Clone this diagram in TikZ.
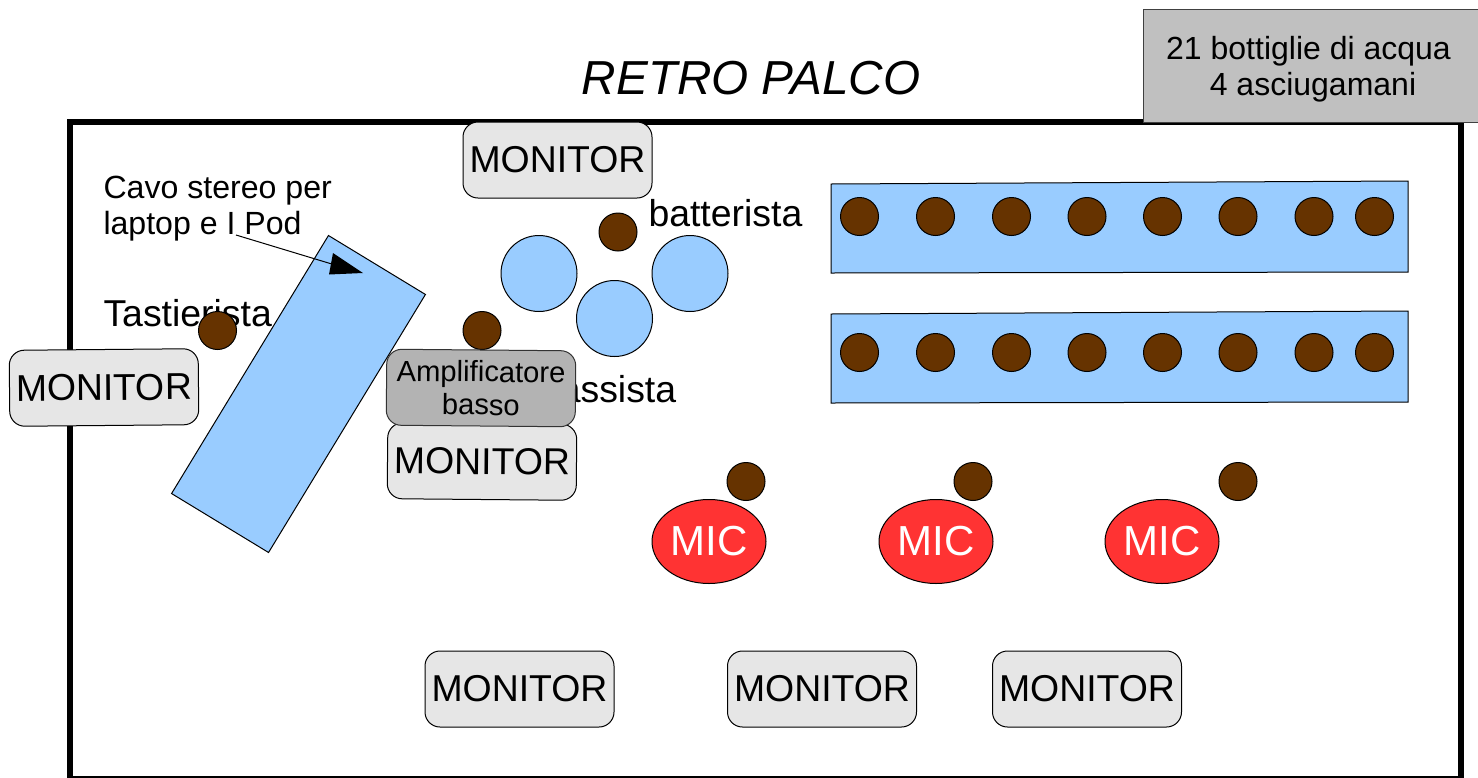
\documentclass[tikz,border=0pt]{standalone}
\usepackage{fontspec}
\setmainfont{Liberation Sans}
\usetikzlibrary{shapes.geometric}
\definecolor{monfill}{HTML}{E6E6E6}
\definecolor{ampfill}{HTML}{B3B3B3}
\definecolor{notefill}{HTML}{C0C0C0}
\definecolor{stageblue}{HTML}{99CCFF}
\definecolor{personbrown}{HTML}{663300}
\definecolor{micred}{HTML}{FF3333}
\newcommand{\fs}[1]{\fontsize{#1}{#1}\selectfont}
\tikzset{
  x=1pt,y=-1pt,
  every node/.style={inner sep=0pt,outer sep=0pt},
  outline/.style={draw=black,line width=1pt},
  monitorbox/.style={outline,fill=monfill,rounded corners=15pt,minimum width=189pt,minimum height=76pt,font=\fs{37.4}},
  ampbox/.style={outline,draw=black!80,fill=ampfill,rounded corners=15pt,minimum width=189pt,minimum height=76pt,align=center,font=\fontsize{29.2}{33}\selectfont},
  person/.style={outline,circle,fill=personbrown,minimum size=38pt},
  drum/.style={outline,circle,fill=stageblue,minimum size=76pt},
  micnode/.style={outline,ellipse,fill=micred,minimum width=114pt,minimum height=84pt,text=white,font=\fs{42}},
  lab/.style={font=\fs{37.4},anchor=base west},
  rack/.style={outline,fill=stageblue},
}
\begin{document}
\begin{tikzpicture}
\useasboundingbox (0,0) rectangle (1478,777);
\begin{scope}
\clip (0,0) rectangle (1478,777);
% stage
\draw[line width=6.5pt,fill=white,line join=miter] (70,122) rectangle (1461,779);
\node[font=\fs{47.7}\itshape,anchor=base] (title) at (751,94) {RETRO PALCO};
\node[draw=black!75,line width=1pt,fill=notefill,minimum width=344pt,minimum height=113pt,anchor=north west] (note) at (1143.5,9) {};
\node[font=\fs{32},anchor=base] (noteA) at (1308.5,59) {21 bottiglie di acqua};
\node[font=\fs{32},anchor=base] (noteB) at (1313,95) {4 asciugamani};
% risers
\draw[rack] (831,184) -- (1408,181) -- (1408,272) -- (831,273) -- cycle;
\draw[rack] (831,314) -- (1408,311) -- (1408,402) -- (831,403) -- cycle;
\foreach \i/\px in {1/859.5,2/935.5,3/1011.5,4/1087,5/1162.5,6/1238,7/1314,8/1374.5}{
  \node[person] (ra\i) at (\px,216.5) {};
  \node[person] (rb\i) at (\px,352.5) {};
}
% labels
\node[lab] (tast) at (103.5,326) {Tastierista};
\node[lab] (batt) at (648.5,226) {batterista};
\node[lab] (bass) at (539,402) {bassista};
\node[font=\fs{32.1},anchor=base west] (cavoA) at (103.5,198) {Cavo stereo per};
\node[font=\fs{32.1},anchor=base west] (cavoB) at (103.5,234) {laptop e I Pod};
% keyboard
\node[outline,fill=stageblue,minimum width=113.5pt,minimum height=302pt,rotate=-31.3] (keys) at (298.5,394) {};
\node[person] (ptast) at (217.5,330.5) {};
% arrow
\coordinate (arrowstart) at (236,235);
\coordinate (arrowend) at (345,268);
\draw[line width=1pt] (arrowstart) -- (arrowend);
\fill (333,253) -- (363,273) -- (329,274.5) -- cycle;
% drums
\node[drum] (d1) at (539,273.5) {};
\node[drum] (d2) at (690,273.5) {};
\node[drum] (d3) at (614.5,318.5) {};
\node[person] (pbatt) at (618,232) {};
\node[person] (pbass) at (482,330.5) {};
% monitors
\node[monitorbox] (m1) at (557.5,160) {MONITOR};
\node[monitorbox,rotate=0.5] (m2) at (104,387.5) {MONITOR};
\node[monitorbox,rotate=-0.5] (m3) at (482,461.5) {MONITOR};
\node[ampbox,rotate=-0.5] (amp) at (481,388) {Amplificatore\\basso};
\node[monitorbox] (m4) at (519.5,689) {MONITOR};
\node[monitorbox] (m5) at (822,689) {MONITOR};
\node[monitorbox] (m6) at (1087,689) {MONITOR};
% mics
\node[micnode] (mic1) at (709,541.5) {MIC};
\node[micnode] (mic2) at (936,541.5) {MIC};
\node[micnode] (mic3) at (1162,541.5) {MIC};
\node[person] (s1) at (746,481.5) {};
\node[person] (s2) at (973,481.5) {};
\node[person] (s3) at (1238,481.5) {};
\end{scope}
\end{tikzpicture}
\end{document}
